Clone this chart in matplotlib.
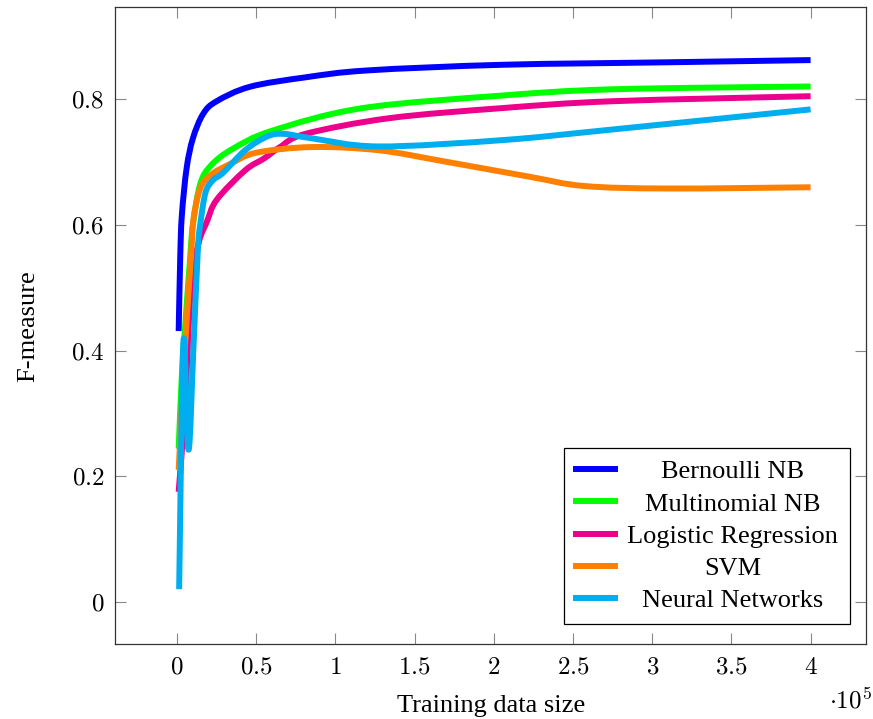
import matplotlib
matplotlib.use('Agg')
import matplotlib.pyplot as plt
from matplotlib.path import Path
from matplotlib.patches import PathPatch
from matplotlib.lines import Line2D
from matplotlib.ticker import FuncFormatter

plt.rcParams['mathtext.fontset'] = 'cm'
plt.rcParams['font.family'] = ['Liberation Serif', 'DejaVu Serif']

# training size in units of 1e5, F-measure
x_bern = [0.01, 0.02, 0.03, 0.06, 0.10, 0.165, 0.25, 0.46, 0.81, 1.20, 2.05, 3.10, 4.0]
y_bern = [0.431, 0.55, 0.615, 0.69, 0.738, 0.777, 0.797, 0.820, 0.835, 0.846, 0.855, 0.859, 0.8625]

x_multi = [0.01, 0.03, 0.05, 0.08, 0.10, 0.146, 0.215, 0.35, 0.60, 1.17, 2.05, 2.75, 4.0]
y_multi = [0.244, 0.36, 0.436, 0.54, 0.600, 0.665, 0.695, 0.721, 0.750, 0.786, 0.806, 0.816, 0.8205]

x_logreg = [0.01, 0.05, 0.087, 0.136, 0.188, 0.25, 0.43, 0.55, 0.65, 0.81, 1.34, 2.05, 2.75, 4.0]
y_logreg = [0.175, 0.314, 0.498, 0.571, 0.605, 0.640, 0.687, 0.706, 0.724, 0.745, 0.770, 0.786, 0.797, 0.805]

x_svm = [0.01, 0.05, 0.087, 0.103, 0.146, 0.215, 0.335, 0.50, 0.85, 1.27, 1.69, 2.22, 2.57, 3.10, 4.0]
y_svm = [0.21, 0.406, 0.546, 0.608, 0.658, 0.680, 0.697, 0.715, 0.724, 0.719, 0.701, 0.677, 0.662, 0.658, 0.660]

x_nn = [0.013, 0.04, 0.072, 0.103, 0.131, 0.146, 0.18, 0.23, 0.29, 0.43, 0.57, 0.674,
        0.85, 1.27, 2.05, 2.75, 4.0]
y_nn = [0.02, 0.415, 0.242, 0.403, 0.56, 0.600, 0.652, 0.672, 0.683, 0.719, 0.741, 0.745,
        0.738, 0.725, 0.735, 0.752, 0.784]

series = [
    ('Bernoulli NB', x_bern, y_bern, '#0000FF'),
    ('Multinomial NB', x_multi, y_multi, '#00FF00'),
    ('Logistic Regression', x_logreg, y_logreg, '#EC008C'),
    ('SVM', x_svm, y_svm, '#FF8000'),
    ('Neural Networks', x_nn, y_nn, '#00AEEF'),
]


def smooth_path(xs, ys):
    # bezier path through the points (like pgfplots "smooth")
    pts = list(zip(xs, ys))
    verts = [pts[0]]
    codes = [Path.MOVETO]
    n = len(pts)
    for i in range(n - 1):
        p0 = pts[max(i - 1, 0)]
        p1 = pts[i]
        p2 = pts[i + 1]
        p3 = pts[min(i + 2, n - 1)]
        c1 = (p1[0] + (p2[0] - p0[0]) / 6, p1[1] + (p2[1] - p0[1]) / 6)
        c2 = (p2[0] - (p3[0] - p1[0]) / 6, p2[1] - (p3[1] - p1[1]) / 6)
        verts += [c1, c2, p2]
        codes += [Path.CURVE4] * 3
    return Path(verts, codes)


fig = plt.figure(figsize=(8.73, 7.19), dpi=100)
ax = fig.add_axes([0.1321, 0.1043, 0.8599, 0.8855])

handles = []
for name, xs, ys, col in series:
    ax.add_patch(PathPatch(smooth_path(xs, ys), fill=False, edgecolor=col,
                           lw=4.3, joinstyle='round', capstyle='butt'))
    handles.append(Line2D([], [], color=col, lw=4.3, label=name))

ax.set_xlim(-0.39, 4.35)
ax.set_ylim(-0.0673, 0.9465)
ax.set_xticks([0, 0.5, 1, 1.5, 2, 2.5, 3, 3.5, 4])
ax.set_yticks([0, 0.2, 0.4, 0.6, 0.8])
fmt = FuncFormatter(lambda v, p: r'$%g$' % v)
ax.xaxis.set_major_formatter(fmt)
ax.yaxis.set_major_formatter(fmt)
ax.tick_params(direction='in', length=8, width=0.8, color='#888888',
               top=True, right=True, labelsize=18)
ax.tick_params(axis='x', pad=9)
ax.tick_params(axis='y', pad=8)
for s in ax.spines.values():
    s.set_color('#333333')
    s.set_linewidth(0.9)

ax.set_xlabel('Training data size', fontsize=19, labelpad=12)
ax.set_ylabel('F-measure', fontsize=19, labelpad=23)
fig.text(0.9985, 0.0153, r'$\cdot 10^5$', fontsize=18, ha='right', va='baseline')

leg = ax.legend(handles=handles, loc='lower right', bbox_to_anchor=(0.9787, 0.0314),
                borderaxespad=0, fontsize=19, fancybox=False, framealpha=1,
                edgecolor='black', handlelength=1.5, labelspacing=0.33,
                handletextpad=0.45, borderpad=0.45)
leg.get_frame().set_linewidth(0.9)

# centre the legend entries like pgfplots does
fig.canvas.draw()
texts = leg.get_texts()
widths = [t.get_window_extent().width for t in texts]
wmax = max(widths)
for t, w in zip(texts, widths):
    t.set_x((wmax - w) / 2)

fig.savefig('out.png', dpi=100)
